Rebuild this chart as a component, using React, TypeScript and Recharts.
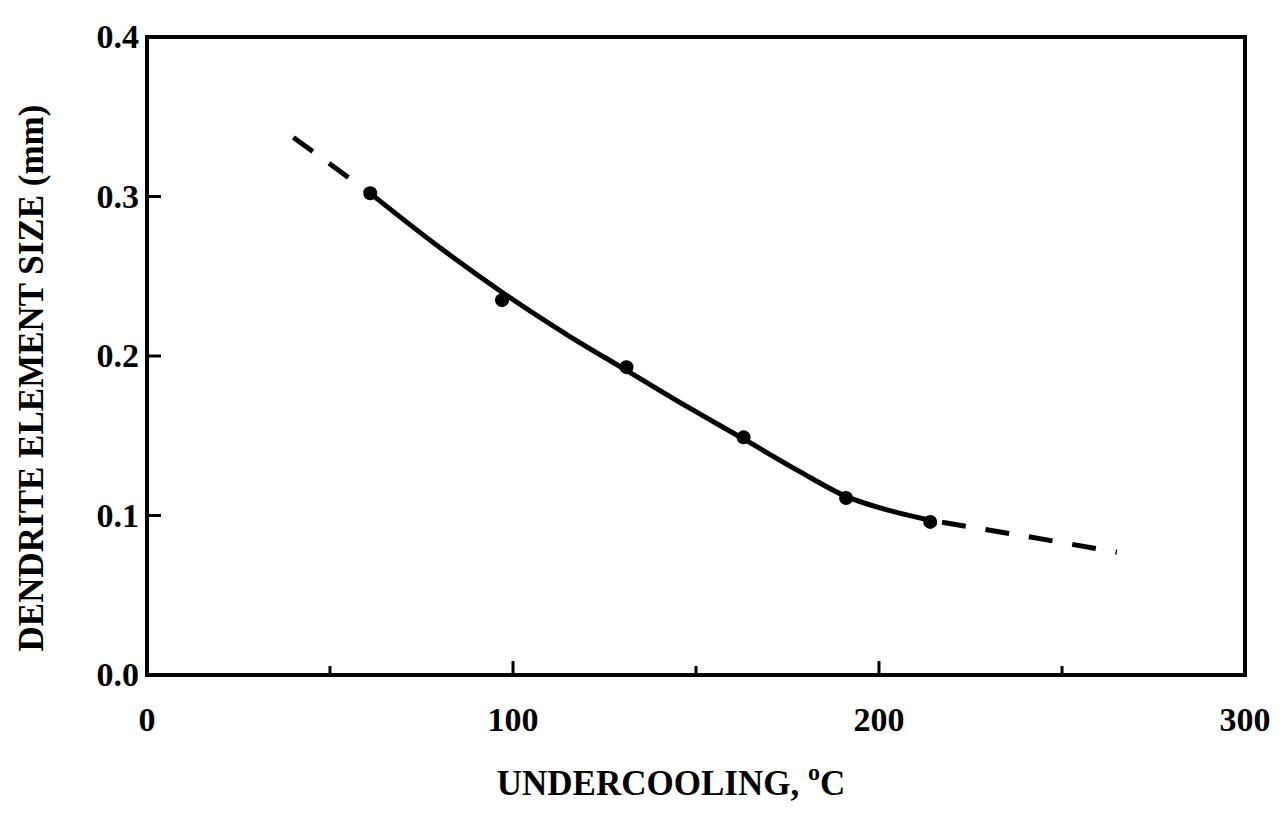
import {
  ComposedChart,
  Line,
  Scatter,
  XAxis,
  YAxis,
  Label,
  ReferenceArea,
} from "recharts";

// measured points (undercooling °C, size mm)
const measuredX = [61, 97, 131, 163, 191, 214];
const measuredY = [0.302, 0.235, 0.193, 0.149, 0.111, 0.096];

// solid fitted curve
const fitX = [61, 80, 97, 115, 131, 147, 163, 178, 191, 203, 214];
const fitY = [0.302, 0.268, 0.24, 0.213, 0.191, 0.169, 0.148, 0.128, 0.112, 0.103, 0.097];

// dashed extrapolations
const leftExtX = [40, 61];
const leftExtY = [0.337, 0.302];
const rightExtX = [214, 240, 265];
const rightExtY = [0.097, 0.087, 0.077];

const xTicks = [0, 50, 100, 150, 200, 250, 300];
const xLabelled = [0, 100, 200, 300];
const yTicks = [0, 0.1, 0.2, 0.3, 0.4];

const toPoints = (xs: number[], ys: number[]) => xs.map((x, i) => ({ x, y: ys[i] }));

const measured = toPoints(measuredX, measuredY);
const fit = toPoints(fitX, fitY);
const leftExt = toPoints(leftExtX, leftExtY);
const rightExt = toPoints(rightExtX, rightExtY);

const FONT = "'Liberation Serif', 'Times New Roman', serif";

function XTick(props: any) {
  const { x, y, payload } = props;
  const major = xLabelled.includes(payload.value);
  const edge = payload.value === 0 || payload.value === 300;
  return (
    <g>
      {!edge && (
        <line x1={x} y1={y} x2={x} y2={y - (major ? 14 : 9)} stroke="#000" strokeWidth={3} />
      )}
      {major && (
        <text
          x={x}
          y={y + 56}
          textAnchor="middle"
          fontFamily={FONT}
          fontWeight="bold"
          fontSize={34}
          fill="#000"
        >
          {payload.value}
        </text>
      )}
    </g>
  );
}

function YTick(props: any) {
  const { x, y, payload } = props;
  const edge = payload.value === 0 || payload.value === 0.4;
  return (
    <g>
      {!edge && <line x1={x} y1={y} x2={x + 14} y2={y} stroke="#000" strokeWidth={3} />}
      <text
        x={x - 8}
        y={y + 11}
        textAnchor="end"
        fontFamily={FONT}
        fontWeight="bold"
        fontSize={34}
        fill="#000"
      >
        {payload.value.toFixed(1)}
      </text>
    </g>
  );
}

export default function App() {
  return (
    <div style={{ width: 1275, height: 800, background: "#fff" }}>
      <ComposedChart
        width={1275}
        height={800}
        margin={{ top: 29, right: 38, left: 79, bottom: 73 }}
      >
        <XAxis
          dataKey="x"
          type="number"
          domain={[0, 300]}
          ticks={xTicks}
          tick={<XTick />}
          tickLine={false}
          tickSize={0}
          tickMargin={0}
          height={60}
          axisLine={{ stroke: "#000", strokeWidth: 4 }}
          allowDuplicatedCategory={false}
        >
          <Label
            content={(p: any) => {
              const vb = p.viewBox;
              const cx = vb.x + vb.width / 2 - 25;
              return (
                <text
                  x={cx}
                  y={vb.y + 120}
                  textAnchor="middle"
                  fontFamily={FONT}
                  fontWeight="bold"
                  fontSize={35}
                  fill="#000"
                >
                  UNDERCOOLING,{" "}
                  <tspan fontSize={24} dy={-15}>o</tspan>
                  <tspan dy={15}>C</tspan>
                </text>
              );
            }}
          />
        </XAxis>
        <YAxis
          type="number"
          domain={[0, 0.4]}
          ticks={yTicks}
          tick={<YTick />}
          tickLine={false}
          tickSize={0}
          tickMargin={0}
          width={60}
          axisLine={{ stroke: "#000", strokeWidth: 4 }}
        >
          <Label
            content={(p: any) => {
              const vb = p.viewBox;
              const cy = vb.y + vb.height / 2 + 22;
              const cx = 23;
              return (
                <text
                  x={cx}
                  y={cy}
                  transform={`rotate(-90, ${cx}, ${cy})`}
                  textAnchor="middle"
                  dominantBaseline="central"
                  fontFamily={FONT}
                  fontWeight="bold"
                  fontSize={35}
                  fill="#000"
                >
                  DENDRITE ELEMENT SIZE (mm)
                </text>
              );
            }}
          />
        </YAxis>
        <ReferenceArea
          x1={0}
          x2={300}
          y1={0}
          y2={0.4}
          fill="none"
          stroke="#000"
          strokeWidth={4}
          ifOverflow="visible"
        />
        <Line
          data={leftExt}
          dataKey="y"
          type="linear"
          stroke="#000"
          strokeWidth={5}
          strokeDasharray="24 20"
          dot={false}
          isAnimationActive={false}
        />
        <Line
          data={fit}
          dataKey="y"
          type="monotone"
          stroke="#000"
          strokeWidth={5}
          dot={false}
          isAnimationActive={false}
        />
        <Line
          data={rightExt}
          dataKey="y"
          type="monotone"
          stroke="#000"
          strokeWidth={5}
          strokeDasharray="24 20"
          strokeDashoffset={-12}
          dot={false}
          isAnimationActive={false}
        />
        <Scatter
          data={measured}
          dataKey="y"
          fill="#000"
          shape={(p: any) => <circle cx={p.cx} cy={p.cy} r={7} fill="#000" />}
          isAnimationActive={false}
        />
      </ComposedChart>
    </div>
  );
}
